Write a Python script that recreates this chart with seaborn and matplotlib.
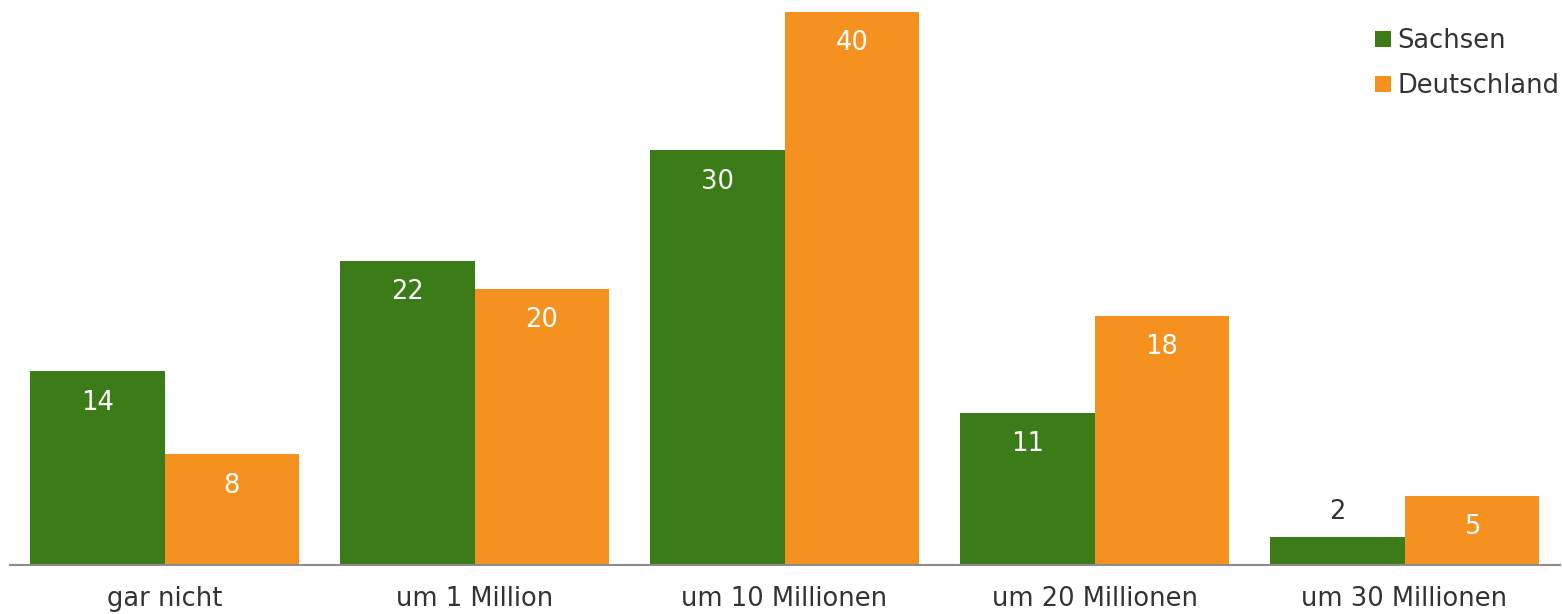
import pandas as pd
import matplotlib.pyplot as plt
import seaborn as sns
from matplotlib.patches import Patch

# data
categories = ["gar nicht", "um 1 Million", "um 10 Millionen", "um 20 Millionen", "um 30 Millionen"]
sachsen = [14, 22, 30, 11, 2]
deutschland = [8, 20, 40, 18, 5]
series = ["Sachsen", "Deutschland"]
colors = {"Sachsen": "#3b7c19", "Deutschland": "#f5921f"}

df = pd.DataFrame({
    "Kategorie": categories * 2,
    "Wert": sachsen + deutschland,
    "Region": ["Sachsen"] * len(categories) + ["Deutschland"] * len(categories),
})

sns.set_style("white")
plt.rcParams["font.family"] = ["DejaVu Sans"]

fig = plt.figure(figsize=(15.62, 6.14), dpi=100)
ax = fig.add_axes([9.5 / 1562, 49 / 614, 1550 / 1562, 565 / 614])

sns.barplot(data=df, x="Kategorie", y="Wert", hue="Region", hue_order=series,
            palette=colors, width=0.868, saturation=1, ax=ax, legend=False,
            edgecolor="none", linewidth=0)

ax.set_xlim(-0.5, len(categories) - 0.5)
ax.set_ylim(0, 40.87)
ax.set_xlabel("")
ax.set_ylabel("")
ax.set_yticks([])
ax.tick_params(axis="x", length=0, pad=15, labelsize=18.5, labelcolor="#333333")
for s in ["top", "right", "left"]:
    ax.spines[s].set_visible(False)
ax.spines["bottom"].set_color("#8c8c8c")
ax.spines["bottom"].set_linewidth(1.5)

# value labels: white inside the bar, dark above very short bars
for cont in ax.containers:
    for bar in cont:
        h = bar.get_height()
        x = bar.get_x() + bar.get_width() / 2
        if h >= 4:
            ax.annotate(f"{h:g}", (x, h), xytext=(0, -22.5), textcoords="offset points",
                        ha="center", va="center", color="white", fontsize=18.5)
        else:
            ax.annotate(f"{h:g}", (x, h), xytext=(0, 18), textcoords="offset points",
                        ha="center", va="center", color="#333333", fontsize=18.5)

handles = [Patch(facecolor=colors[s], edgecolor="none", label=s) for s in series]
leg = ax.legend(handles=handles, loc="upper right", bbox_to_anchor=(1.0065, 0.968),
                frameon=False, fontsize=18.5, handlelength=0.6, handleheight=0.6,
                handletextpad=0.25, labelspacing=0.72, borderaxespad=0)
for t in leg.get_texts():
    t.set_color("#333333")

fig.savefig("out.png", dpi=100)
